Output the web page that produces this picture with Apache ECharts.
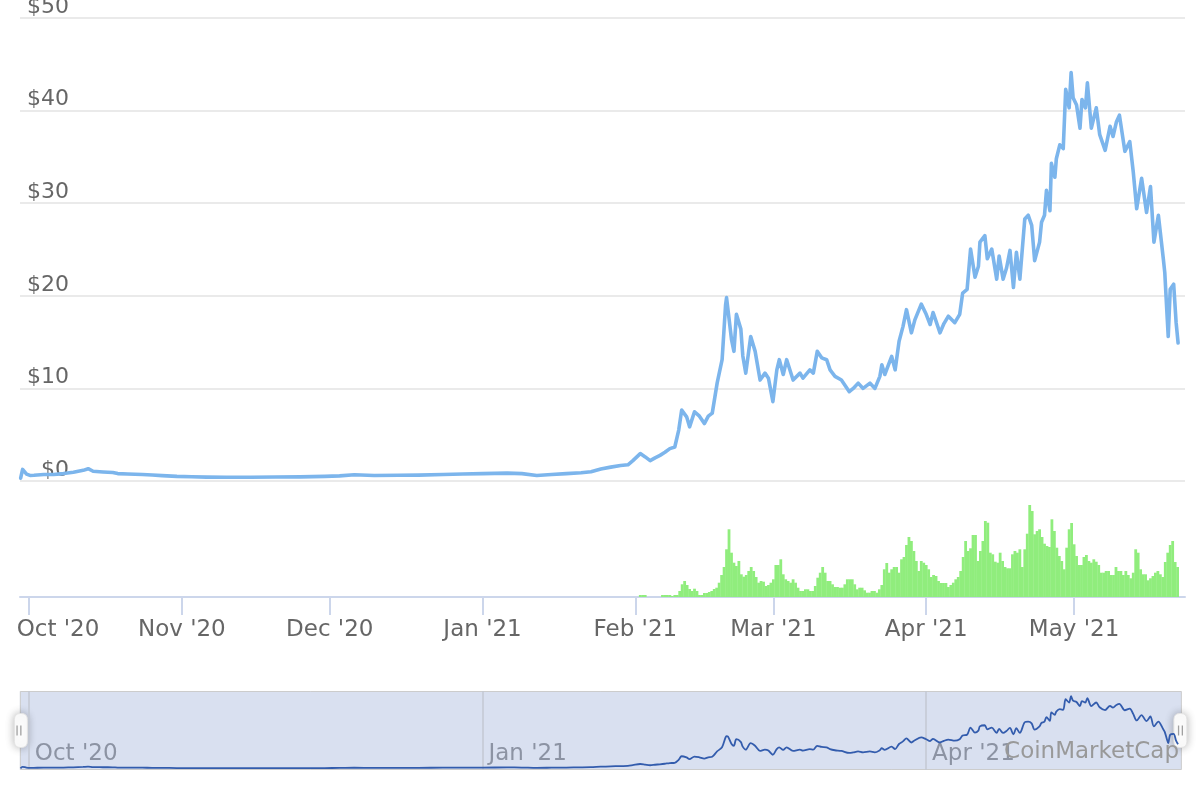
<!DOCTYPE html>
<html>
<head>
<meta charset="utf-8">
<script src="https://cdn.jsdelivr.net/npm/echarts@6/dist/echarts.min.js"></script>
<style>
html,body{margin:0;padding:0;background:#fff}
#chart{width:1200px;height:800px}
</style>
</head>
<body>
<div id="chart"></div>
<script>
// ---- DATA (x = days counted from 1 Oct 2020) ----
const priceDays = [
  -1.7, -1.3, -0.5, 0.2, 1, 3, 5, 7, 9, 11,
  12, 13, 15, 17, 18, 20, 23, 25, 27, 30,
  33, 36, 40, 45, 50, 55, 60, 63, 66, 70,
  75, 79, 84, 88, 92, 97, 100, 103, 106, 109,
  112, 114, 116, 118, 120, 121.5, 122.5, 124, 125, 126,
  127, 128, 129, 130, 131, 131.8, 132.4, 133.4, 134, 135,
  136, 137, 137.8, 138.6, 139.6, 140.6, 141.3, 141.5, 141.8, 142.5,
  143, 143.5, 144.4, 144.8, 145.4, 146.4, 147.3, 148.3, 149.3, 150,
  150.9, 151.7, 152.2, 153, 153.7, 155, 156.4, 157, 158.4, 159.1,
  159.9, 160.8, 161.8, 162.5, 163.5, 164.8, 166.4, 167.2, 168.2, 169.2,
  170.6, 171.6, 172.6, 173, 173.6, 175, 175.7, 176.5, 177.3, 178,
  179, 179.7, 181, 182, 182.8, 183.4, 184.8, 185.6, 186.5, 187.8,
  188.8, 189.4, 190.3, 191, 191.9, 192.6, 192.9, 193.9, 194.4, 195.3,
  196.3, 196.8, 197.6, 198.3, 199, 199.7, 200.3, 201, 202, 202.7,
  203.4, 204, 205, 205.4, 206, 206.4, 207.1, 207.4, 208.1, 208.4,
  209.1, 209.8, 210.3, 211, 211.4, 211.8, 212.5, 213.2, 213.6, 214.3,
  214.7, 215.5, 216.5, 217.2, 218.3, 219.3, 219.9, 220.6, 221.2, 222.3,
  223.3, 224, 224.7, 225.7, 226.7, 227.5, 228.2, 229.1, 230.1, 230.4,
  230.8, 231.1, 231.5, 232.2, 232.7, 233.1
];
const prices = [
  0.3, 1.25, 0.75, 0.6, 0.62, 0.7, 0.7, 0.8, 0.95, 1.15,
  1.33, 1.05, 0.98, 0.92, 0.8, 0.76, 0.7, 0.65, 0.58, 0.5,
  0.46, 0.42, 0.41, 0.4, 0.43, 0.45, 0.5, 0.55, 0.67, 0.6,
  0.62, 0.63, 0.7, 0.75, 0.8, 0.85, 0.8, 0.6, 0.7, 0.8,
  0.89, 1.0, 1.3, 1.5, 1.68, 1.75, 2.2, 2.96, 2.6, 2.2,
  2.5, 2.77, 3.1, 3.5, 3.67, 5.5, 7.66, 6.93, 5.85, 7.48,
  7.0, 6.2, 7.0, 7.33, 10.6, 13.1, 19.0, 19.8, 19.6, 15.3,
  14.0, 18.0, 16.4, 13.5, 11.65, 15.6, 14.0, 10.9, 11.65, 11.1,
  8.57, 12.0, 13.1, 11.5, 13.1, 10.9, 11.65, 11.1, 12.0, 11.65,
  14.0, 13.3, 13.1, 12.0, 11.3, 10.9, 9.65, 10.0, 10.57, 10.0,
  10.57, 10.0, 11.3, 12.55, 11.5, 13.45, 12.0, 15.1, 16.7, 18.5,
  16.0, 17.4, 19.1, 18.0, 16.9, 18.2, 16.0, 17.0, 17.8, 17.1,
  18.0, 20.3, 20.7, 25.05, 22.0, 23.2, 25.8, 26.5, 24.0, 25.05,
  21.8, 24.3, 21.8, 23.0, 24.9, 20.9, 24.7, 21.8, 28.3, 28.7,
  27.6, 23.8, 25.8, 27.95, 28.7, 31.4, 29.2, 34.3, 32.8, 34.8,
  36.3, 35.9, 42.3, 40.3, 44.1, 41.4, 40.6, 38.1, 41.2, 40.3,
  43.0, 38.1, 40.3, 37.4, 35.7, 38.3, 37.2, 38.8, 39.5, 35.6,
  36.65, 33.4, 29.4, 32.7, 29.0, 31.8, 25.8, 28.7, 24.0, 22.5,
  18.5, 15.6, 20.7, 21.25, 17.1, 14.9
];
// volume, one bar every half day starting at day 124 (relative units)
const volumeStartDay = 124;
const volumeStepDays = 0.5;
const volumes = [
  2, 2, 2, 0, 0, 0, 0, 0, 0, 2,
  2, 2, 2, 1, 2, 2, 6, 12.7, 16, 12,
  8, 6, 8.3, 6, 2, 2, 4, 4, 5, 6,
  8, 9.3, 14.3, 22, 30, 47.7, 67.7, 44.3, 34.3, 31,
  36, 22.7, 20.3, 22, 26, 30, 26, 20, 14.3, 16,
  15.3, 11, 12, 14.3, 17.7, 32, 32, 37.7, 22.7, 17.7,
  16, 14.3, 17.7, 14.3, 9.3, 6, 6, 7.7, 7.7, 6,
  6, 11, 19.3, 24.3, 30, 24.3, 16, 16, 12.7, 10,
  10, 9.3, 9.3, 12.7, 17.7, 17.7, 17.7, 12.7, 7.7, 9.3,
  9.3, 6.7, 4.3, 4.3, 6, 6, 4.3, 7.7, 12, 27.7,
  34, 24.3, 27.7, 30, 30, 24.3, 37.7, 40, 52, 60,
  56, 46, 36, 26, 36, 34.3, 32, 27.7, 20, 22,
  21, 16, 14, 14, 14, 10, 12, 14.3, 17.7, 20,
  26, 40, 56, 46, 48.7, 62, 62, 36, 46, 56,
  76, 74.3, 44.3, 42.7, 35.3, 34.3, 44.3, 36, 30, 28.7,
  28.7, 42.7, 46, 44.3, 47.7, 30, 47.7, 63.3, 92, 86,
  62.7, 66, 67.7, 60, 53.3, 51, 50, 77.7, 66, 49.3,
  41, 36, 27.7, 49.3, 67.7, 74, 52.7, 41, 32, 32,
  40, 42, 36, 34.3, 37.7, 35.3, 32, 24.3, 24.3, 26,
  26, 22, 22, 30, 26, 26, 22, 26, 22, 18.7,
  24.3, 47.7, 44.3, 27.7, 22.7, 22.7, 16.7, 18.7, 21, 24.3,
  26, 22.7, 20, 35, 44.3, 52, 56, 35, 30
];
const tickMonths = [[2020, 9], [2020, 10], [2020, 11], [2021, 0], [2021, 1], [2021, 2], [2021, 3], [2021, 4]];
const tickLabels = ["Oct '20", "Nov '20", "Dec '20", "Jan '21", "Feb '21", "Mar '21", "Apr '21", "May '21"];
const navTickMonths = [[2020, 9], [2021, 0], [2021, 3]];
const navTickLabels = ["Oct '20", "Jan '21", "Apr '21"];
const yTickValues = [0, 10, 20, 30, 40, 50];
const creditText = 'CoinMarketCap';

// ---- BUILD ----
const DAY = 86400000;
const base = Date.UTC(2020, 9, 1);
const dayOf = m => Math.round((Date.UTC(m[0], m[1], 1) - base) / DAY);
const priceData = priceDays.map((d, i) => [d, prices[i]]);
const volumeData = volumes.map((v, i) => [volumeStartDay + i * volumeStepDays, v]);
const tickVals = tickMonths.map(dayOf);
const navTickVals = navTickMonths.map(dayOf);
const FONT = 'DejaVu Sans';

const chart = echarts.init(document.getElementById('chart'), null, { renderer: 'canvas' });

const option = {
  animation: false,
  backgroundColor: '#ffffff',
  textStyle: { fontFamily: FONT },
  title: {
    text: creditText, right: 21, top: 741, padding: 0,
    textStyle: { fontFamily: FONT, fontSize: 23, fontWeight: 'normal', color: '#999999' },
    z: 20
  },
  grid: [
    { left: 20, right: 15, top: 18, height: 463, outerBoundsMode: 'none' },
    { left: 20, right: 15, top: 481, height: 116, outerBoundsMode: 'none' },
    { left: 19, right: 19.5, top: 691, height: 79, outerBoundsMode: 'none' }
  ],
  xAxis: [
    { type: 'value', gridIndex: 0, min: -1.83, max: 234.5, show: false, splitLine: { show: false } },
    {
      type: 'value', gridIndex: 1, min: -1.83, max: 234.5,
      axisLine: { show: true, lineStyle: { color: '#ccd6eb', width: 2 } },
      axisTick: { show: true, length: 18, customValues: tickVals, lineStyle: { color: '#ccd6eb', width: 2 } },
      splitLine: { show: false },
      axisLabel: {
        customValues: tickVals,
        fontFamily: FONT, fontSize: 23, color: '#666666', margin: 22,
        formatter: function (val) {
          const i = tickVals.indexOf(val);
          if (i < 0) return '';
          return i === 0 ? '{first|' + tickLabels[i] + '}' : tickLabels[i];
        },
        rich: { first: { fontFamily: FONT, fontSize: 23, color: '#666666', padding: [0, 0, 0, 58] } }
      }
    },
    {
      type: 'value', gridIndex: 2, min: -2, max: 233.6,
      axisLine: { show: false }, axisTick: { show: false }, splitLine: { show: false },
      axisLabel: {
        customValues: navTickVals,
        inside: true, align: 'left', padding: [0, 0, 0, 6], margin: 4,
        fontFamily: FONT, fontSize: 23, color: '#999999',
        formatter: function (val) {
          const i = navTickVals.indexOf(val);
          return i < 0 ? '' : navTickLabels[i];
        }
      }
    }
  ],
  yAxis: [
    {
      type: 'value', gridIndex: 0, min: yTickValues[0], max: yTickValues[yTickValues.length - 1], interval: 10,
      axisLine: { show: false }, axisTick: { show: false },
      splitLine: { show: true, lineStyle: { color: '#e3e3e3', width: 1.5 } },
      axisLabel: {
        inside: true, margin: 49, align: 'right', verticalAlign: 'bottom',
        fontFamily: FONT, fontSize: 22, color: '#666666',
        formatter: '${value}'
      }
    },
    { type: 'value', gridIndex: 1, min: 0, max: 116, show: false, splitLine: { show: false } },
    { type: 'value', gridIndex: 2, min: -0.7, max: 47.3, show: false, splitLine: { show: false } }
  ],
  dataZoom: [{
    type: 'slider',
    xAxisIndex: [0, 1],
    start: 0, end: 100,
    left: 19, right: 19.5, top: 691, height: 79,
    backgroundColor: 'rgba(0,0,0,0)',
    fillerColor: 'rgba(102,133,194,0.25)',
    borderColor: '#cccccc',
    borderRadius: 0,
    showDataShadow: false,
    showDetail: false,
    brushSelect: false,
    moveHandleSize: 0,
    realtime: false,
    handleIcon: 'path://M6,0 H7 Q13,0 13,6 V28 Q13,34 7,34 H6 Q0,34 0,28 V6 Q0,0 6,0 Z',
    handleSize: '43%',
    handleStyle: { color: '#ffffff', borderColor: '#e4e4e4', borderWidth: 1, shadowBlur: 8, shadowColor: 'rgba(0,0,0,0.28)' },
    emphasis: { handleStyle: { color: '#ffffff', borderColor: '#e4e4e4', shadowBlur: 8, shadowColor: 'rgba(0,0,0,0.28)' } },
    dataBackground: { lineStyle: { opacity: 0 }, areaStyle: { opacity: 0 } },
    selectedDataBackground: { lineStyle: { opacity: 0 }, areaStyle: { opacity: 0 } },
    textStyle: { color: 'rgba(0,0,0,0)' }
  }],
  graphic: [
    { type: 'rect', z: 100, shape: { x: 16.4, y: 725.5, width: 1.3, height: 10 }, style: { fill: '#a0a0a0' } },
    { type: 'rect', z: 100, shape: { x: 20.2, y: 725.5, width: 1.3, height: 10 }, style: { fill: '#a0a0a0' } },
    { type: 'rect', z: 100, shape: { x: 1177.9, y: 725.5, width: 1.3, height: 10 }, style: { fill: '#a0a0a0' } },
    { type: 'rect', z: 100, shape: { x: 1181.7, y: 725.5, width: 1.3, height: 10 }, style: { fill: '#a0a0a0' } }
  ],
  series: [
    {
      name: 'Price', type: 'line', xAxisIndex: 0, yAxisIndex: 0,
      data: priceData, showSymbol: false, symbol: 'none', smooth: false,
      lineStyle: { color: '#7cb5ec', width: 3.6, cap: 'round', join: 'round' },
      z: 3
    },
    {
      name: 'Volume', type: 'bar', xAxisIndex: 1, yAxisIndex: 1,
      data: volumeData, barWidth: 2.8,
      itemStyle: { color: '#90ed7d' }
    },
    {
      name: 'Navigator', type: 'line', xAxisIndex: 2, yAxisIndex: 2,
      data: priceData, showSymbol: false, symbol: 'none', silent: true,
      smooth: 0.3,
      lineStyle: { color: '#335cad', width: 1.8 },
      z: 6,
      markLine: {
        silent: true, symbol: 'none', label: { show: false },
        lineStyle: { color: '#c3c8d3', width: 1.5, type: 'solid' },
        data: navTickVals.map(v => ({ xAxis: v }))
      }
    }
  ]
};
chart.setOption(option);
</script>
</body>
</html>
